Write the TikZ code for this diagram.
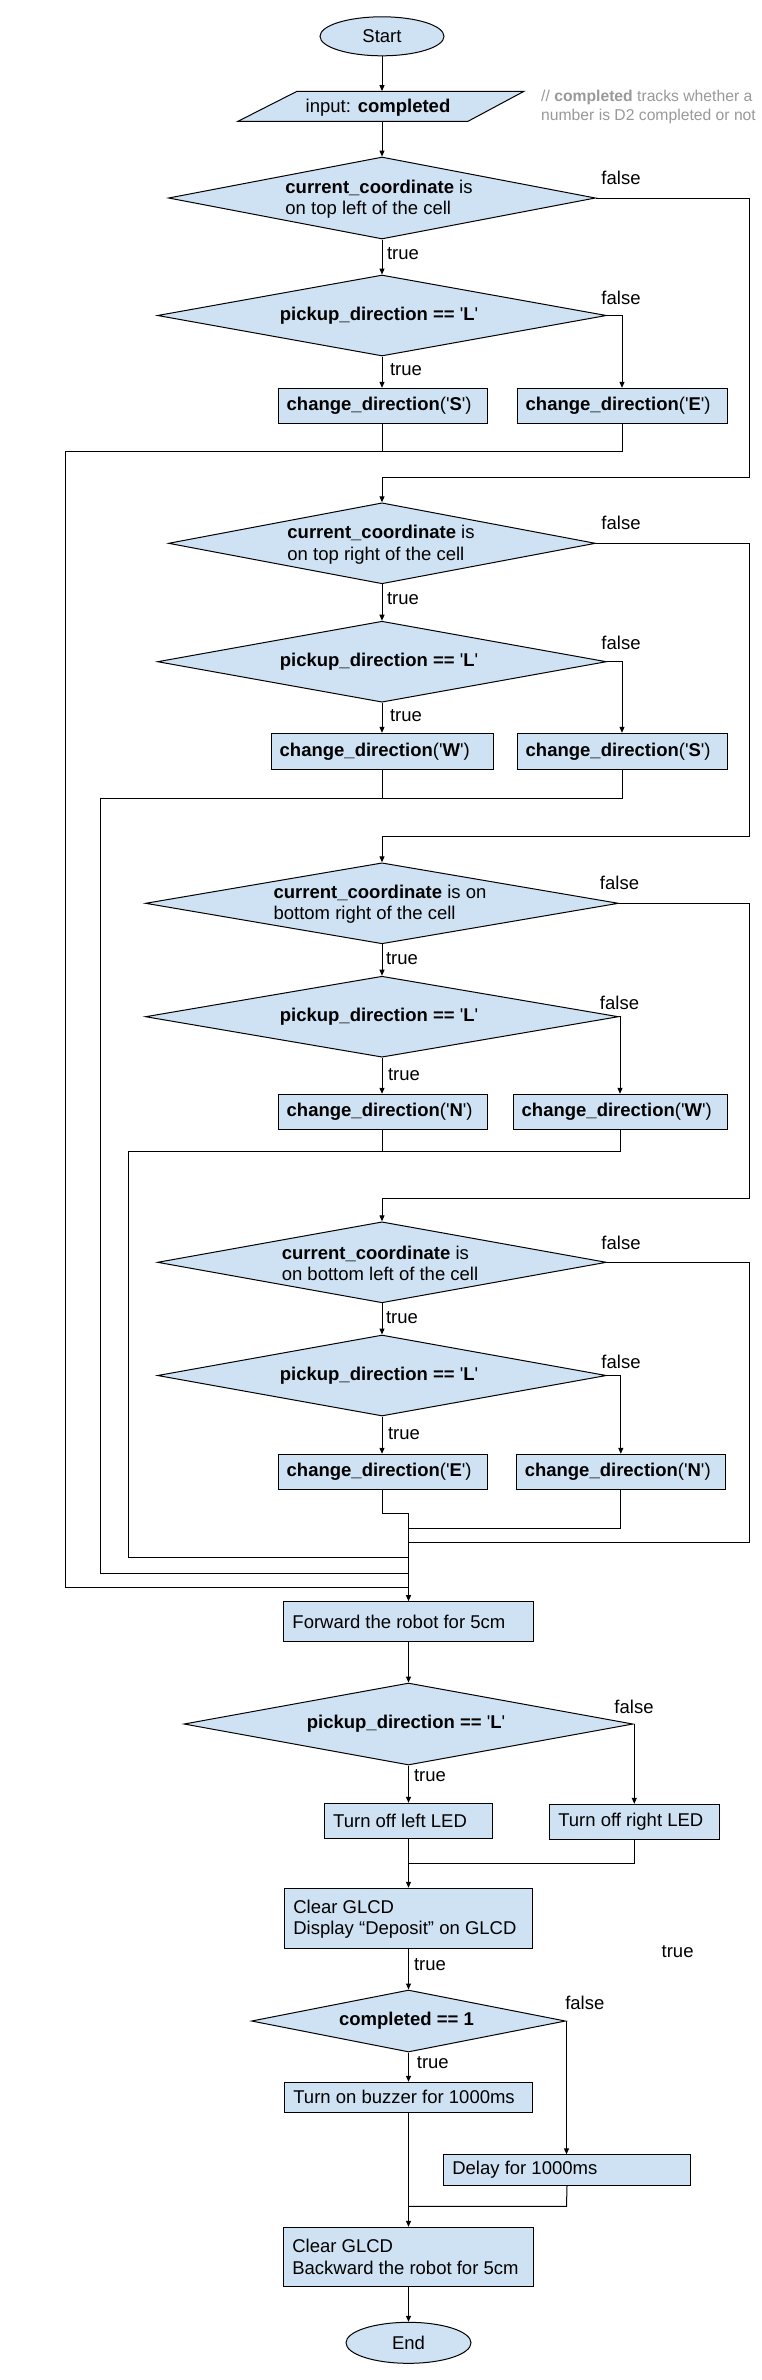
\documentclass[tikz,border=0pt]{standalone}
\usepackage{fontspec}
\setmainfont{Liberation Sans}
\usetikzlibrary{shapes.geometric,arrows.meta}
\definecolor{boxfill}{HTML}{CFE2F3}
\definecolor{cmtgray}{HTML}{999999}
\newcommand\tq{\textquotesingle}
\newcommand\cdir[1]{\textbf{change\_direction}(\tq\textbf{#1}\tq)}
\newcommand\pdir{\textbf{pickup\_direction ==} \tq\textbf{L}\tq}
\begin{document}
\begin{tikzpicture}[x=1pt,y=-1pt,
  every node/.style={font=\fontsize{18.5}{21.3}\selectfont, inner sep=0pt},
  shapebase/.style={draw=black, fill=boxfill, line width=1pt},
  dia/.style 2 args={shapebase, diamond, minimum width=#1, minimum height=#2},
  bx/.style 2 args={shapebase, rectangle, minimum width=#1, minimum height=#2},
  oval/.style 2 args={shapebase, ellipse, minimum width=#1, minimum height=#2},
  txt/.style={anchor=west, align=left},
  lbl/.style={anchor=center},
  conn/.style={line width=1pt, draw=black},
  arr/.style={conn, -{Triangle[length=6pt,width=5pt]}}
]
\fill[white] (0,0) rectangle (762,2380);
\useasboundingbox (0,0) rectangle (762,2380);

% start and input
\node[oval={124}{39}] (start) at (382,36.3) {Start};
\coordinate (inp) at (382,106.3);
\node[minimum width=286, minimum height=30] (inpbox) at (inp) {};
\draw[shapebase] (238,121.3) -- (468,121.3) -- (524,91.3) -- (297,91.3) -- cycle;
\node (inptxt) at (378,107.7) {input: \textbf{completed}};
\node[txt, text=cmtgray, font=\fontsize{15.7}{18.7}\selectfont] (cmt) at (541,106.7)
  {// \textbf{completed} tracks whether a\\number is D2 completed or not};

% block 1
\node[dia={427}{82}] (d1) at (382,198) {};
\node[align=left] (d1t) at (379,199.3) {\textbf{current\_coordinate} is\\on top left of the cell};
\node[dia={449}{81}] (d2) at (382,315.5) {};
\node (d2t) at (379,315.5) {\pdir};
\node[bx={209}{35}] (bS) at (382.5,405.8) {};
\node[txt] (bSt) at ([xshift=9pt]bS.west) {\cdir{S}};
\node[bx={210}{35}] (bE) at (622,405.8) {};
\node[txt] (bEt) at ([xshift=9pt]bE.west) {\cdir{E}};

% block 2
\node[dia={427}{81}] (d3) at (382,543.3) {};
\node[align=left] (d3t) at (381,544.7) {\textbf{current\_coordinate} is\\on top right of the cell};
\node[dia={449}{81}] (d4) at (382,661.7) {};
\node (d4t) at (379,661.7) {\pdir};
\node[bx={222}{36}] (bW) at (382,751.3) {};
\node[txt] (bWt) at ([xshift=9pt]bW.west) {\cdir{W}};
\node[bx={210}{36}] (bS2) at (622,751.3) {};
\node[txt] (bS2t) at ([xshift=9pt]bS2.west) {\cdir{S}};

% block 3
\node[dia={473}{81}] (d5) at (382,903.3) {};
\node[align=left] (d5t) at (380,904.2) {\textbf{current\_coordinate} is on\\bottom right of the cell};
\node[dia={473}{81}] (d6) at (382,1016.7) {};
\node (d6t) at (379,1016.7) {\pdir};
\node[bx={209}{35}] (bN) at (382.5,1111.8) {};
\node[txt] (bNt) at ([xshift=9pt]bN.west) {\cdir{N}};
\node[bx={214}{35}] (bW2) at (620,1111.8) {};
\node[txt] (bW2t) at ([xshift=9pt]bW2.west) {\cdir{W}};

% block 4
\node[dia={449}{81}] (d7) at (382,1262.3) {};
\node[align=left] (d7t) at (380,1263.5) {\textbf{current\_coordinate} is\\on bottom left of the cell};
\node[dia={449}{81}] (d8) at (382,1375.5) {};
\node (d8t) at (379,1375.5) {\pdir};
\node[bx={209}{35}] (bE2) at (382.5,1471.8) {};
\node[txt] (bE2t) at ([xshift=9pt]bE2.west) {\cdir{E}};
\node[bx={209.5}{35}] (bN2) at (620.8,1471.8) {};
\node[txt] (bN2t) at ([xshift=9pt]bN2.west) {\cdir{N}};

% lower part
\node[bx={249.5}{39.6}] (fwd) at (408.5,1621.5) {};
\node[txt] (fwdt) at ([xshift=9pt,yshift=-0.8pt]fwd.west) {Forward the robot for 5cm};
\node[dia={449}{82}] (d9) at (408.5,1724) {};
\node (d9t) at (406,1724) {\pdir};
\node[bx={168}{35}] (tl) at (408.5,1820.8) {};
\node[txt] (tlt) at ([xshift=9pt]tl.west) {Turn off left LED};
\node[bx={169.4}{35}] (tr) at (634.3,1821.8) {};
\node[txt] (trt) at ([xshift=9pt]tr.west) {Turn off right LED};
\node[bx={247.7}{60}] (clr) at (408.5,1918.3) {};
\node[txt] (clrt) at ([xshift=9pt,yshift=-0.9pt]clr.west) {Clear GLCD\\Display “Deposit” on GLCD};
\node[dia={314}{62}] (d10) at (408.5,2021) {};
\node (d10t) at (406.5,2021) {\textbf{completed == 1}};
\node[bx={247.7}{30}] (buz) at (408.5,2097.3) {};
\node[txt] (buzt) at ([xshift=9pt]buz.west) {Turn on buzzer for 1000ms};
\node[bx={246.7}{31.4}] (dly) at (567,2170) {};
\node[txt] (dlyt) at ([xshift=9pt]dly.west) {Delay for 1000ms};
\node[bx={249.7}{59}] (clr2) at (408.5,2256.8) {};
\node[txt] (clr2t) at ([xshift=9pt]clr2.west) {Clear GLCD\\Backward the robot for 5cm};
\node[oval={125}{41}] (end) at (408.5,2342.8) {End};

% labels
\node[lbl] (f1) at (621,177.7) {false};
\node[lbl] (f2) at (621,297.7) {false};
\node[lbl] (f3) at (621,523.3) {false};
\node[lbl] (f4) at (621,643.3) {false};
\node[lbl] (f5) at (619.5,882.7) {false};
\node[lbl] (f6) at (619.5,1002.7) {false};
\node[lbl] (f7) at (621,1242.7) {false};
\node[lbl] (f8) at (621,1362.3) {false};
\node[lbl] (f9) at (634,1706.7) {false};
\node[lbl] (f10) at (584.8,2002.7) {false};
\node[lbl] (tr1) at (403,253.3) {true};
\node[lbl] (tr2) at (406,369.3) {true};
\node[lbl] (tr3) at (403,598.3) {true};
\node[lbl] (tr4) at (406,715.3) {true};
\node[lbl] (tr5) at (402,958.3) {true};
\node[lbl] (tr6) at (404,1075) {true};
\node[lbl] (tr7) at (402,1317.7) {true};
\node[lbl] (tr8) at (404,1434) {true};
\node[lbl] (tr9) at (430,1776) {true};
\node[lbl] (tr10) at (430,1965) {true};
\node[lbl] (tr11) at (432.8,2062.3) {true};
\node[lbl] (tr12) at (677.6,1951.7) {true};

% merge coordinates
\coordinate (m) at (408.5,1513.3);

% connectors
\draw[arr] (start.south) -- (inpbox.north);
\draw[arr] (inpbox.south) -- (d1.north);
\draw[arr] (d1.south) -- (d2.north);
\draw[arr] (d2.south) -- (d2.south |- bS.north);
\draw[arr] (d2.east) -| (bE.north);
\draw[arr] (d1.east) -- (749,198) -- (749,477.3) -- (382,477.3) -- (d3.north);
\draw[conn] (bS.south) -- (382.5,451.3);
\draw[conn] (bE.south) -- (622,451.3) -- (65,451.3) -- (65,1587.3) -- (408.5,1587.3);

\draw[arr] (d3.south) -- (d4.north);
\draw[arr] (d4.south) -- (bW.north);
\draw[arr] (d4.east) -| (bS2.north);
\draw[arr] (d3.east) -- (749,543.3) -- (749,836) -- (382,836) -- (d5.north);
\draw[conn] (bW.south) -- (382,798.3);
\draw[conn] (bS2.south) -- (622,798.3) -- (100,798.3) -- (100,1573.3) -- (408.5,1573.3);

\draw[arr] (d5.south) -- (d6.north);
\draw[arr] (d6.south) -- (d6.south |- bN.north);
\draw[arr] (d6.east) -| (bW2.north);
\draw[arr] (d5.east) -- (749,903.3) -- (749,1198.3) -- (382,1198.3) -- (d7.north);
\draw[conn] (bN.south) -- (382.5,1151);
\draw[conn] (bW2.south) -- (620,1151) -- (128.5,1151) -- (128.5,1557.3) -- (408.5,1557.3);

\draw[arr] (d7.south) -- (d8.north);
\draw[arr] (d8.south) -- (d8.south |- bE2.north);
\draw[arr] (d8.east) -| (bN2.north);
\draw[conn] (d7.east) -- (749,1262.3) -- (749,1542.3) -- (408.5,1542.3);
\draw[conn] (bN2.south) -- (620.8,1528.3) -- (408.5,1528.3);
\draw[arr] (bE2.south) -- (382.5,1513.3) -- (m) -- (fwd.north);

\draw[arr] (fwd.south) -- (d9.north);
\draw[arr] (d9.south) -- (tl.north);
\draw[arr] (d9.east) -| (tr.north);
\draw[arr] (tl.south) -- (clr.north);
\draw[conn] (tr.south) -- (634.3,1863.3) -- (408.5,1863.3);
\draw[arr] (clr.south) -- (d10.north);
\draw[arr] (d10.south) -- (buz.north);
\draw[arr] (d10.east) -- (566.5,2021) -- (566.5,2154.3);
\draw[arr] (buz.south) -- (clr2.north);
\draw[conn] (dly.south) -- (566.5,2206.3) -- (408.5,2206.3);
\draw[arr] (clr2.south) -- (end.north);
\end{tikzpicture}
\end{document}
